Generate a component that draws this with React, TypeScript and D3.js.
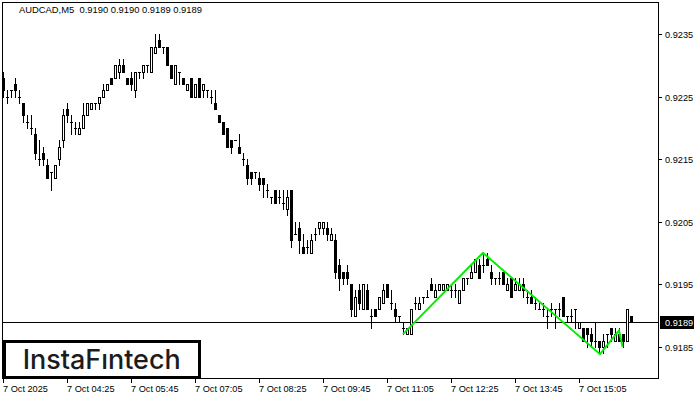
import React from "react";
import * as d3 from "d3";

const symbolTitle = "AUDCAD,M5";
const headerValues = ["0.9190", "0.9190", "0.9189", "0.9189"];

const opens = [
  0.9228, 0.9225, 0.9226, 0.9227, 0.9225, 0.9224, 0.9221, 0.922, 0.9219, 0.9215,
  0.9216, 0.9214, 0.9213, 0.9212, 0.9215, 0.9218, 0.9223, 0.9221, 0.922, 0.9219,
  0.922, 0.9222, 0.9223, 0.9224, 0.9224, 0.9225, 0.9226, 0.9228, 0.9228, 0.9229,
  0.923, 0.9228, 0.9228, 0.9226, 0.9229, 0.9229, 0.923, 0.9229, 0.9232, 0.9234,
  0.9233, 0.9233, 0.923, 0.9227, 0.9229, 0.9228, 0.9226, 0.9228, 0.9225, 0.9228,
  0.9226, 0.9226, 0.9225, 0.9224, 0.9222, 0.9221, 0.922, 0.9218, 0.9218, 0.9217,
  0.9215, 0.9214, 0.9213, 0.9213, 0.9212, 0.9212, 0.921, 0.9209, 0.921, 0.9209,
  0.9208, 0.9207, 0.921, 0.9203, 0.9204, 0.9201, 0.9201, 0.92, 0.9203, 0.9204,
  0.9204, 0.9204, 0.9202, 0.9202, 0.9198, 0.9197, 0.9197, 0.9195, 0.919, 0.9194,
  0.9191, 0.9194, 0.919, 0.9191, 0.9191, 0.9192, 0.9195, 0.9192, 0.9191, 0.919,
  0.9188, 0.9187, 0.9187, 0.9192, 0.9191, 0.9193, 0.9193, 0.9195, 0.9193, 0.9194,
  0.9194, 0.9194, 0.9194, 0.9194, 0.9192, 0.9194, 0.9196, 0.9196, 0.9197, 0.9198,
  0.9198, 0.9199, 0.9197, 0.9196, 0.9196, 0.9197, 0.9194, 0.9196, 0.9194, 0.9194,
  0.9195, 0.9193, 0.9193, 0.9192, 0.9191, 0.9191, 0.919, 0.9191, 0.9191, 0.9191,
  0.9193, 0.919, 0.919, 0.9191, 0.9188, 0.9188, 0.9188, 0.9187, 0.9186, 0.9186,
  0.9185, 0.9187, 0.9188, 0.9186, 0.9187, 0.9187, 0.9186, 0.919,
];

const highs = [
  0.9229, 0.9226, 0.9226, 0.9228, 0.9226, 0.9224, 0.9222, 0.9222, 0.922, 0.9218,
  0.9217, 0.9215, 0.9213, 0.9214, 0.9218, 0.9223, 0.9224, 0.9222, 0.9221, 0.9221,
  0.9224, 0.9224, 0.9224, 0.9224, 0.9225, 0.9227, 0.9227, 0.9228, 0.923, 0.9231,
  0.9231, 0.9228, 0.9229, 0.9229, 0.9229, 0.923, 0.923, 0.9233, 0.9235, 0.9235,
  0.9233, 0.9233, 0.923, 0.923, 0.9229, 0.9228, 0.9227, 0.9228, 0.9227, 0.9228,
  0.9227, 0.9226, 0.9226, 0.9226, 0.9222, 0.9221, 0.922, 0.9218, 0.9218, 0.9219,
  0.9216, 0.9215, 0.9213, 0.9213, 0.9213, 0.9212, 0.9211, 0.9209, 0.921, 0.921,
  0.921, 0.921, 0.921, 0.9205, 0.9205, 0.9203, 0.9202, 0.9203, 0.9204, 0.9205,
  0.9205, 0.9205, 0.9204, 0.9203, 0.9199, 0.9197, 0.9198, 0.9195, 0.9194, 0.9195,
  0.9195, 0.9195, 0.9191, 0.9191, 0.9193, 0.9195, 0.9195, 0.9194, 0.9192, 0.919,
  0.9189, 0.9188, 0.9191, 0.9193, 0.9193, 0.9193, 0.9194, 0.9196, 0.9195, 0.9195,
  0.9195, 0.9195, 0.9195, 0.9195, 0.9194, 0.9196, 0.9196, 0.9198, 0.9199, 0.9199,
  0.92, 0.92, 0.9198, 0.9196, 0.9197, 0.9197, 0.9196, 0.9196, 0.9196, 0.9196,
  0.9196, 0.9194, 0.9194, 0.9193, 0.9192, 0.9192, 0.9191, 0.9192, 0.9191, 0.9192,
  0.9193, 0.919, 0.9191, 0.9191, 0.9189, 0.9188, 0.9188, 0.9188, 0.9189, 0.9186,
  0.9187, 0.9187, 0.9188, 0.9188, 0.9188, 0.9187, 0.9191, 0.919,
];

const lows = [
  0.9225, 0.9224, 0.9225, 0.9225, 0.9224, 0.9221, 0.922, 0.9219, 0.9215, 0.9214,
  0.9214, 0.9212, 0.921, 0.9212, 0.9214, 0.9217, 0.9221, 0.9219, 0.9219, 0.9219,
  0.922, 0.9222, 0.9223, 0.9223, 0.9223, 0.9225, 0.9226, 0.9227, 0.9228, 0.9228,
  0.9229, 0.9227, 0.9226, 0.9225, 0.9228, 0.9228, 0.9229, 0.9229, 0.9232, 0.9233,
  0.9232, 0.923, 0.9228, 0.9227, 0.9227, 0.9227, 0.9226, 0.9225, 0.9225, 0.9225,
  0.9225, 0.9225, 0.9224, 0.9223, 0.9221, 0.9219, 0.9217, 0.9216, 0.9218, 0.9216,
  0.9214, 0.9211, 0.9211, 0.9212, 0.921, 0.9209, 0.9209, 0.9208, 0.9208, 0.9208,
  0.9207, 0.9206, 0.9201, 0.9203, 0.92, 0.92, 0.92, 0.92, 0.9202, 0.9203,
  0.9203, 0.9202, 0.9202, 0.9196, 0.9194, 0.9195, 0.9195, 0.919, 0.919, 0.9191,
  0.9191, 0.9191, 0.9188, 0.919, 0.9191, 0.9192, 0.9193, 0.9191, 0.9189, 0.9189,
  0.9187, 0.9187, 0.9187, 0.9191, 0.9191, 0.9192, 0.9193, 0.9194, 0.9193, 0.9194,
  0.9194, 0.9194, 0.9193, 0.9193, 0.9192, 0.9194, 0.9195, 0.9196, 0.9197, 0.9196,
  0.9197, 0.9198, 0.9195, 0.9195, 0.9195, 0.9195, 0.9194, 0.9193, 0.9194, 0.9194,
  0.9193, 0.9192, 0.9192, 0.9191, 0.9191, 0.919, 0.9188, 0.919, 0.9188, 0.919,
  0.919, 0.9189, 0.9189, 0.9188, 0.9188, 0.9186, 0.9185, 0.9185, 0.9185, 0.9184,
  0.9184, 0.9185, 0.9186, 0.9186, 0.9186, 0.9185, 0.9186, 0.9189,
];

const closes = [
  0.9226, 0.9225, 0.9226, 0.9226, 0.9225, 0.9222, 0.9221, 0.922, 0.9216, 0.9215,
  0.9215, 0.9212, 0.9213, 0.9214, 0.9217, 0.9222, 0.9222, 0.9221, 0.922, 0.922,
  0.9222, 0.9224, 0.9224, 0.9224, 0.9225, 0.9226, 0.9227, 0.9227, 0.923, 0.923,
  0.9229, 0.9227, 0.9227, 0.9229, 0.9229, 0.923, 0.923, 0.9233, 0.9233, 0.9233,
  0.9233, 0.923, 0.9228, 0.923, 0.9229, 0.9227, 0.9227, 0.9225, 0.9227, 0.9225,
  0.9227, 0.9226, 0.9225, 0.9223, 0.9221, 0.9219, 0.9217, 0.9217, 0.9218, 0.9216,
  0.9215, 0.9212, 0.9212, 0.9213, 0.9211, 0.9211, 0.921, 0.9209, 0.9208, 0.9209,
  0.9208, 0.9209, 0.9202, 0.9203, 0.9202, 0.92, 0.9201, 0.9202, 0.9203, 0.9205,
  0.9205, 0.9203, 0.9203, 0.9197, 0.9196, 0.9196, 0.9196, 0.9191, 0.9193, 0.9192,
  0.9195, 0.9191, 0.919, 0.919, 0.9193, 0.9194, 0.9193, 0.9192, 0.919, 0.919,
  0.9188, 0.9188, 0.9191, 0.9192, 0.9192, 0.9193, 0.9193, 0.9194, 0.9194, 0.9195,
  0.9195, 0.9195, 0.9194, 0.9194, 0.9194, 0.9196, 0.9196, 0.9197, 0.9199, 0.9196,
  0.9198, 0.9198, 0.9196, 0.9196, 0.9196, 0.9195, 0.9195, 0.9193, 0.9195, 0.9195,
  0.9194, 0.9193, 0.9192, 0.9192, 0.9191, 0.9191, 0.919, 0.9191, 0.9191, 0.9191,
  0.919, 0.919, 0.919, 0.9191, 0.9189, 0.9186, 0.9187, 0.9186, 0.9186, 0.9185,
  0.9186, 0.9187, 0.9187, 0.9187, 0.9186, 0.9186, 0.9191, 0.9189,
];

const yTickValues = [0.9235, 0.9225, 0.9215, 0.9205, 0.9195, 0.9185];
const yTickLabels = ["0.9235", "0.9225", "0.9215", "0.9205", "0.9195", "0.9185"];
const xTickBars = [0, 16, 32, 48, 64, 80, 96, 112, 128, 144];
const xTickLabels = [
  "7 Oct 2025", "7 Oct 04:25", "7 Oct 05:45", "7 Oct 07:05", "7 Oct 08:25",
  "7 Oct 09:45", "7 Oct 11:05", "7 Oct 12:25", "7 Oct 13:45", "7 Oct 15:05",
];
const lastPrice = 0.9189;
const lastPriceLabel = "0.9189";
const patternBars = [100, 120, 149.25, 154, 154.9];
const patternPrices = [0.91871, 0.92001, 0.91839, 0.91877, 0.91851];
const logoText = "InstaFıntech";

const FONT = "'Liberation Sans', Arial, sans-serif";

export default function App() {
  const n = opens.length;
  const x = d3.scaleLinear().domain([0, n - 1]).range([3, 3 + 4 * (n - 1)]);
  const y = d3.scaleLinear().domain([0.9185, 0.9235]).range([347.3, 34.5]);
  const row = (p: number) => Math.floor(y(p));

  const plotLeft = 2;
  const plotRight = 658;
  const plotTop = 2;
  const plotBottom = 378;

  const candles = d3.range(n).map((i) => {
    const c = Math.round(x(i));
    const o = opens[i], h = highs[i], l = lows[i], cl = closes[i];
    const rh = row(h), rl = row(l), ro = row(o), rc = row(cl);
    const top = Math.min(ro, rc), bot = Math.max(ro, rc);
    const wick = <rect key={"w" + i} x={c} y={rh} width={1} height={rl - rh + 1} fill="#000" />;
    let body;
    if (top === bot) {
      body = <rect key={"b" + i} x={c - 1} y={top} width={3} height={1} fill="#000" />;
    } else if (cl < o) {
      body = <rect key={"b" + i} x={c - 1} y={top} width={3} height={bot - top + 1} fill="#000" />;
    } else {
      body = (
        <rect key={"b" + i} x={c - 0.5} y={top + 0.5} width={2} height={bot - top}
          fill="#fff" stroke="#000" strokeWidth={1} />
      );
    }
    return <g key={i}>{wick}{body}</g>;
  });

  const line = d3.line<number>()
    .x((d) => x(d))
    .y((_, k) => y(patternPrices[k]));
  const patternPath = line(patternBars) || "";

  const lastRow = row(lastPrice);

  return (
    <svg width={700} height={400} style={{ position: "fixed", left: 0, top: 0, background: "#fff" }}
      shapeRendering="crispEdges">
      <rect x={0} y={0} width={700} height={400} fill="#fff" />
      {/* bid line */}
      <rect x={plotLeft} y={lastRow} width={plotRight - plotLeft} height={1} fill="#000" />
      <g>{candles}</g>
      <path d={patternPath} fill="none" stroke="#00ee00" strokeWidth={2}
        shapeRendering="geometricPrecision" strokeLinejoin="miter" />
      {/* frame */}
      <rect x={plotLeft + 0.5} y={plotTop + 0.5} width={plotRight - plotLeft} height={plotBottom - plotTop}
        fill="none" stroke="#000" strokeWidth={1} />
      {/* title */}
      <text x={19} y={13} fontFamily={FONT} fontSize={9.4} fill="#000" style={{ whiteSpace: "pre" }}>
        {symbolTitle + "  " + headerValues.join(" ")}
      </text>
      {/* y axis */}
      {yTickValues.map((v, k) => {
        const r = row(v);
        return (
          <g key={"yt" + k}>
            <rect x={plotRight + 1} y={r} width={3} height={1} fill="#000" />
            <text x={665} y={r + 3.5} fontFamily={FONT} fontSize={9.2} fill="#000">{yTickLabels[k]}</text>
          </g>
        );
      })}
      {/* last price label */}
      <rect x={660} y={lastRow - 6} width={34} height={13} fill="#000" />
      <text x={665} y={lastRow + 3.5} fontFamily={FONT} fontSize={9.2} fill="#fff">{lastPriceLabel}</text>
      {/* x axis */}
      {xTickBars.map((b, k) => {
        const tx = Math.round(x(b));
        return (
          <g key={"xt" + k}>
            <rect x={tx} y={plotBottom + 1} width={1} height={4} fill="#000" />
            <text x={tx} y={392} fontFamily={FONT} fontSize={9.2} fill="#000">{xTickLabels[k]}</text>
          </g>
        );
      })}
      {/* logo */}
      <rect x={4.5} y={341.5} width={195} height={36} fill="#fff" stroke="#000" strokeWidth={3} />
      <text x={22.7} y={369} fontFamily="Inter, 'Open Sans', sans-serif" fontWeight={500} fontSize={27}
        fill="#1c1c1c" textLength={158} lengthAdjust="spacingAndGlyphs">{logoText}</text>
    </svg>
  );
}
